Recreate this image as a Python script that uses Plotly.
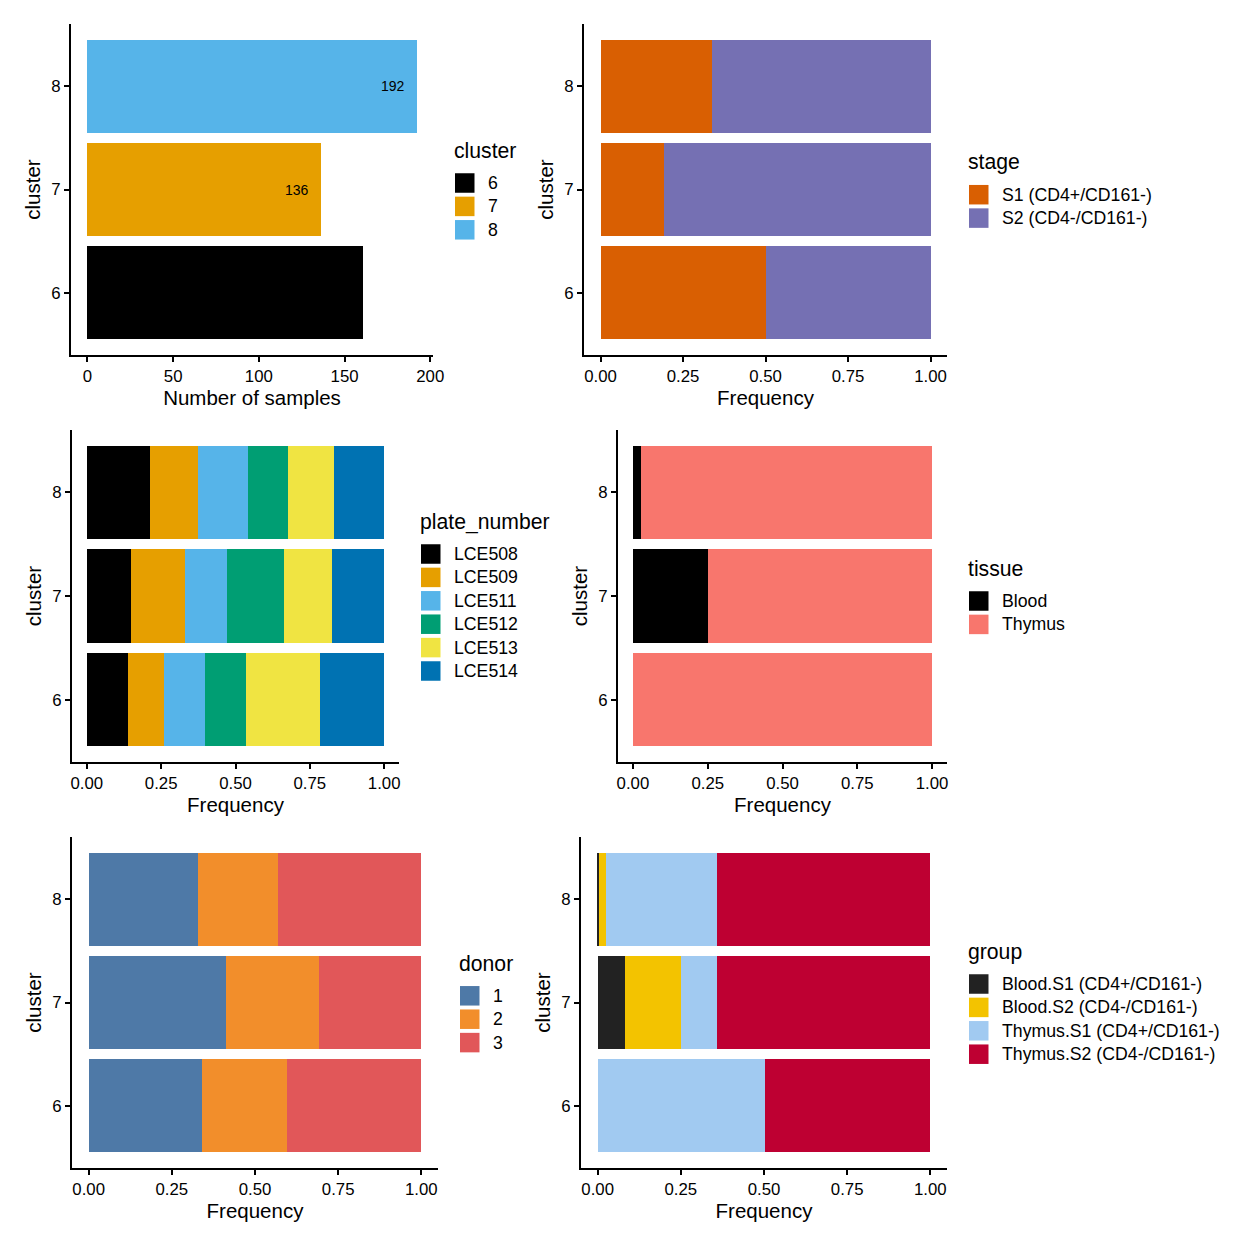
import plotly.graph_objects as go

# ---------------- data ----------------
clusters = ["6", "7", "8"]
n_samples = [161, 136, 192]
n_labels = ["161", "136", "192"]
cluster_colors = ["#000000", "#E69F00", "#56B4E9"]

stage_levels = ["S1 (CD4+/CD161-)", "S2 (CD4-/CD161-)"]
stage_freq = [[0.503, 0.191, 0.339],
              [0.497, 0.809, 0.661]]
stage_colors = ["#D95F02", "#7570B3"]

plate_levels = ["LCE508", "LCE509", "LCE511", "LCE512", "LCE513", "LCE514"]
plate_freq = [[0.137, 0.147, 0.214],
              [0.124, 0.184, 0.161],
              [0.137, 0.140, 0.167],
              [0.137, 0.191, 0.135],
              [0.248, 0.162, 0.156],
              [0.217, 0.176, 0.167]]
plate_colors = ["#000000", "#E69F00", "#56B4E9", "#009E73", "#F0E442", "#0072B2"]

tissue_levels = ["Blood", "Thymus"]
tissue_freq = [[0.0, 0.25, 0.026],
               [1.0, 0.75, 0.974]]
tissue_colors = ["#000000", "#F8766D"]

donor_levels = ["1", "2", "3"]
donor_freq = [[0.342, 0.412, 0.328],
              [0.255, 0.279, 0.240],
              [0.403, 0.309, 0.432]]
donor_colors = ["#4E79A7", "#F28E2B", "#E15759"]

group_levels = ["Blood.S1 (CD4+/CD161-)", "Blood.S2 (CD4-/CD161-)",
                "Thymus.S1 (CD4+/CD161-)", "Thymus.S2 (CD4-/CD161-)"]
group_freq = [[0.0, 0.081, 0.005],
              [0.0, 0.169, 0.021],
              [0.503, 0.110, 0.333],
              [0.497, 0.640, 0.641]]
group_colors = ["#222222", "#F3C300", "#A1CAF1", "#BE0032"]

legend_titles = ["cluster", "stage", "plate_number", "tissue", "donor", "group"]
x_titles = ["Number of samples", "Frequency", "Frequency", "Frequency", "Frequency", "Frequency"]
y_title = "cluster"

# ---------------- layout geometry (pixels) ----------------
W = H = 1248
FONT = "Liberation Sans, Arial, Helvetica, sans-serif"


def xd(a, b):
    return [a / W, b / W]


def yd(top, bottom):
    return [1 - bottom / H, 1 - top / H]


# (x domain, y domain, legend anchor: swatch left px, first item centre px)
panels = [
    (xd(71, 433), yd(24, 355), (455, 183)),
    (xd(584, 947), yd(24, 355), (969, 194.7)),
    (xd(72, 399), yd(430, 762), (421, 554)),
    (xd(618, 947), yd(430, 762), (969, 601)),
    (xd(72, 438), yd(837, 1168), (460, 995.8)),
    (xd(581, 947), yd(837, 1168), (969, 984)),
]
ITEM_STEP = 23.4
SW = 19.5
TITLE_FS = 21.2
ITEM_FS = 17.7

fig = go.Figure()


def axref(i):
    return ("x" if i == 0 else f"x{i+1}", "y" if i == 0 else f"y{i+1}")


# panel 1: counts per cluster
xa, ya = axref(0)
for c, n, col in zip(clusters, n_samples, cluster_colors):
    fig.add_trace(go.Bar(y=[c], x=[n], orientation="h", name=c, width=0.9,
                         marker=dict(color=col, line=dict(width=0)),
                         xaxis=xa, yaxis=ya, showlegend=False))
for idx, (n, t) in enumerate(zip(n_samples, n_labels)):
    fig.add_annotation(x=n, y=idx, text=t, xref=xa, yref=ya, showarrow=False,
                       xanchor="right", yanchor="middle", xshift=-10,
                       font=dict(family=FONT, size=14, color="#000000"))

stacked = [
    (stage_levels, stage_freq, stage_colors),
    (plate_levels, plate_freq, plate_colors),
    (tissue_levels, tissue_freq, tissue_colors),
    (donor_levels, donor_freq, donor_colors),
    (group_levels, group_freq, group_colors),
]
for k, (levels, freqs, cols) in enumerate(stacked, start=1):
    xa, ya = axref(k)
    for lev, f, col in zip(levels, freqs, cols):
        fig.add_trace(go.Bar(y=clusters, x=f, orientation="h", name=lev, width=0.9,
                             marker=dict(color=col, line=dict(width=0)),
                             xaxis=xa, yaxis=ya, showlegend=False))

# legends (drawn as keys + text)
legend_sets = [(clusters, cluster_colors)] + [(lv, cl) for lv, _, cl in stacked]
shapes = []
for i, ((levels, cols), (_, _, (sx, sy))) in enumerate(zip(legend_sets, panels)):
    fig.add_annotation(x=(sx - 3.5) / W, y=1 - (sy - 25 - 0.3465 * TITLE_FS) / H,
                       xref="paper", yref="paper", text=legend_titles[i],
                       showarrow=False, xanchor="left", yanchor="middle",
                       font=dict(family=FONT, size=TITLE_FS, color="#000000"))
    for j, (lev, col) in enumerate(zip(levels, cols)):
        cy = sy + j * ITEM_STEP
        shapes.append(dict(type="rect", xref="paper", yref="paper",
                           x0=sx / W, x1=(sx + SW) / W,
                           y0=1 - (cy - SW / 2) / H, y1=1 - (cy + SW / 2) / H,
                           fillcolor=col, line=dict(width=0), layer="above"))
        fig.add_annotation(x=(sx + 30.5) / W, y=1 - cy / H, xref="paper", yref="paper",
                           text=lev, showarrow=False, xanchor="left", yanchor="middle",
                           font=dict(family=FONT, size=ITEM_FS, color="#000000"))

layout = dict(
    template="none",
    width=W, height=H, autosize=False, margin=dict(l=0, r=0, t=0, b=0, pad=0),
    paper_bgcolor="white", plot_bgcolor="white",
    barmode="stack", bargap=0.1,
    font=dict(family=FONT, color="#000000"),
    showlegend=False,
    shapes=shapes,
)

for i, (xdom, ydom, _) in enumerate(panels):
    sx = "" if i == 0 else str(i + 1)
    if i == 0:
        xr = [-9.6, 201.6]
        tickvals = [0, 50, 100, 150, 200]
        ticktext = ["0", "50", "100", "150", "200"]
    else:
        xr = [-0.05, 1.05]
        tickvals = [0, 0.25, 0.5, 0.75, 1.0]
        ticktext = ["0.00", "0.25", "0.50", "0.75", "1.00"]
    layout["xaxis" + sx] = dict(
        domain=xdom, anchor="y" + sx, range=xr, tickmode="array",
        tickvals=tickvals, ticktext=ticktext, automargin=False,
        showgrid=False, zeroline=False, showline=True, linecolor="black", linewidth=2,
        ticks="outside", ticklen=5, tickwidth=1.5, tickcolor="black",
        tickfont=dict(family=FONT, size=16.8, color="#000000"),
        title=dict(text=x_titles[i], font=dict(family=FONT, size=20.5, color="#000000"),
                   standoff=4),
        fixedrange=True,
    )
    layout["yaxis" + sx] = dict(
        domain=ydom, anchor="x" + sx, type="category", categoryorder="array",
        categoryarray=clusters, range=[-0.6, 2.6], automargin=False,
        showgrid=False, zeroline=False, showline=True, linecolor="black", linewidth=2,
        ticks="outside", ticklen=5, tickwidth=1.5, tickcolor="black",
        tickfont=dict(family=FONT, size=16.8, color="#000000"),
        title=dict(text=y_title, font=dict(family=FONT, size=20.5, color="#000000"),
                   standoff=5),
        fixedrange=True,
    )

fig.update_layout(**layout)
fig.write_html("out.html", config={"responsive": False, "displayModeBar": False})
